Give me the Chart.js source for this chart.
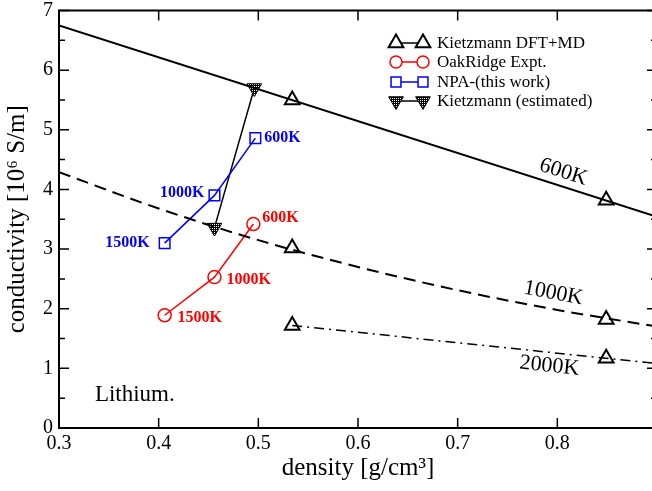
<!DOCTYPE html>
<html>
<head>
<meta charset="utf-8">
<script src="https://cdn.jsdelivr.net/npm/chart.js@4/dist/chart.umd.min.js"></script>
<style>
  html, body { margin: 0; padding: 0; background: #fff; overflow: hidden; }
  #wrap { width: 670px; height: 491px; position: relative; }
</style>
</head>
<body>
<div id="wrap"><canvas id="chart"></canvas></div>
<script>
// --- data ---
const xTicks = [0.3, 0.4, 0.5, 0.6, 0.7, 0.8, 0.9];
const yTicks = [0, 1, 2, 3, 4, 5, 6, 7];

// Kietzmann DFT+MD (open triangles)
const dftDensity = [0.534, 0.849];
const dft600 = [5.50, 3.82];
const dft1000 = [3.02, 1.82];
const dft2000 = [1.72, 1.17];

// fitted curves through them
const fit600Density = [0.3, 0.9];
const fit600 = [6.75, 3.54];
const fit1000Density = [0.3, 0.4, 0.5, 0.6, 0.7, 0.8, 0.9];
const fit1000 = [4.29, 3.68, 3.15, 2.70, 2.31, 1.98, 1.70];
const fit2000Density = [0.534, 0.9];
const fit2000 = [1.72, 1.08];

// OakRidge Expt. (red circles)
const oakDensity = [0.406, 0.456, 0.495];
const oakCond = [1.89, 2.53, 3.42];
// NPA (this work) (blue squares)
const npaDensity = [0.406, 0.456, 0.497];
const npaCond = [3.10, 3.90, 4.86];
// Kietzmann (estimated) (filled down triangles)
const estDensity = [0.496, 0.456];
const estCond = [5.70, 3.36];

// text labels in data coordinates
const tempLabels = [
  { text: '600K',  x: 0.506, y: 4.86, color: '#0000ff', align: 'left' },
  { text: '1000K', x: 0.446, y: 3.94, color: '#0000ff', align: 'right' },
  { text: '1500K', x: 0.391, y: 3.10, color: '#0000ff', align: 'right' },
  { text: '600K',  x: 0.504, y: 3.52, color: '#ff0000', align: 'left' },
  { text: '1000K', x: 0.468, y: 2.48, color: '#ff0000', align: 'left' },
  { text: '1500K', x: 0.419, y: 1.84, color: '#ff0000', align: 'left' }
];
const curveLabels = [
  { text: '600K',  x: 0.806, y: 4.29, angle: 17.7 },
  { text: '1000K', x: 0.796, y: 2.26, angle: 10.6 },
  { text: '2000K', x: 0.792, y: 1.04, angle: 6 }
];

const SERIF = '"Liberation Serif", "DejaVu Serif", serif';
const pts = (xs, ys) => xs.map((x, i) => ({ x: x, y: ys[i] }));

// stipple fill for the estimated markers
function stipple() {
  const c = document.createElement('canvas');
  c.width = 2; c.height = 2;
  const g = c.getContext('2d');
  g.fillStyle = '#000'; g.fillRect(0, 0, 2, 2);
  g.fillStyle = '#fff'; g.fillRect(0, 0, 1, 1);
  return g.createPattern(c, 'repeat');
}
const stipFill = stipple();

const triStyle = { pointStyle: 'triangle', pointRadius: 8.5, pointBorderWidth: 2, pointBorderColor: '#000', pointBackgroundColor: '#fff' };

const datasets = [
  { label: 'fit600', data: pts(fit600Density, fit600), borderColor: '#000', borderWidth: 2, pointRadius: 0, showLine: true },
  { label: 'fit1000', data: pts(fit1000Density, fit1000), borderColor: '#000', borderWidth: 2, borderDash: [12, 7], pointRadius: 0, showLine: true, cubicInterpolationMode: 'monotone' },
  { label: 'fit2000', data: pts(fit2000Density, fit2000), borderColor: '#000', borderWidth: 1.5, borderDash: [10, 5, 2, 5], pointRadius: 0, showLine: true },
  Object.assign({ label: 'dft600', data: pts(dftDensity, dft600), showLine: false }, triStyle),
  Object.assign({ label: 'dft1000', data: pts(dftDensity, dft1000), showLine: false }, triStyle),
  Object.assign({ label: 'dft2000', data: pts(dftDensity, dft2000), showLine: false }, triStyle),
  { label: 'OakRidge Expt.', data: pts(oakDensity, oakCond), showLine: true, borderColor: '#ff0000', borderWidth: 1.5,
    pointStyle: 'circle', pointRadius: 6.5, pointBorderWidth: 1.5, pointBorderColor: '#ff0000', pointBackgroundColor: 'rgba(0,0,0,0)' },
  { label: 'NPA-(this work)', data: pts(npaDensity, npaCond), showLine: true, borderColor: '#0000ff', borderWidth: 1.5,
    pointStyle: 'rect', pointRadius: 7.5, pointBorderWidth: 1.5, pointBorderColor: '#0000ff', pointBackgroundColor: 'rgba(0,0,0,0)' },
  { label: 'Kietzmann (estimated)', data: pts(estDensity, estCond), showLine: true, borderColor: '#000', borderWidth: 1.5,
    pointStyle: 'triangle', pointRotation: 180, pointRadius: 8.5, pointBorderWidth: 1, pointBorderColor: '#000', pointBackgroundColor: stipFill }
];

const legendItems = [
  { text: 'Kietzmann DFT+MD', color: '#000', style: 'triangle', radius: 8.5, rotation: 0, fill: '#fff', bw: 2 },
  { text: 'OakRidge Expt.', color: '#ff0000', style: 'circle', radius: 6, rotation: 0, fill: '#fff', bw: 1.5 },
  { text: 'NPA-(this work)', color: '#0000ff', style: 'rect', radius: 7, rotation: 0, fill: '#fff', bw: 1.5 },
  { text: 'Kietzmann (estimated)', color: '#000', style: 'triangle', radius: 8.5, rotation: 180, fill: stipFill, bw: 1 }
];

// marker drawing for the legend (same shapes as Chart.js point styles)
function marker(ctx, style, r, rot, x, y) {
  ctx.beginPath();
  if (style === 'circle') {
    ctx.arc(x, y, r, 0, Math.PI * 2);
  } else if (style === 'rect') {
    const s = r * Math.SQRT1_2;
    ctx.rect(x - s, y - s, 2 * s, 2 * s);
  } else {
    const sgn = rot === 180 ? -1 : 1;
    ctx.moveTo(x, y - sgn * r);
    ctx.lineTo(x + r * 0.866, y + sgn * r * 0.5);
    ctx.lineTo(x - r * 0.866, y + sgn * r * 0.5);
    ctx.closePath();
  }
  ctx.fill();
  ctx.stroke();
}

// frame, inward ticks, legend and text annotations
const decor = {
  id: 'decor',
  afterDatasetsDraw(chart) {
    const { ctx, chartArea: a, scales: { x, y } } = chart;
    ctx.save();
    ctx.strokeStyle = '#000';
    ctx.lineWidth = 2;
    ctx.setLineDash([]);
    ctx.strokeRect(a.left, a.top, a.right - a.left, a.bottom - a.top);

    ctx.lineWidth = 1.5;
    ctx.beginPath();
    xTicks.forEach(v => {
      const px = x.getPixelForValue(v);
      ctx.moveTo(px, a.bottom); ctx.lineTo(px, a.bottom - 10);
      ctx.moveTo(px, a.top); ctx.lineTo(px, a.top + 10);
    });
    for (let v = 0; v <= 7; v += 0.5) {
      const py = y.getPixelForValue(v);
      const len = Number.isInteger(v) ? 10 : 6;
      ctx.moveTo(a.left, py); ctx.lineTo(a.left + len, py);
      ctx.moveTo(a.right, py); ctx.lineTo(a.right - len, py);
    }
    ctx.stroke();

    // legend
    const lx0 = 396, lx1 = 423, tx = 437;
    const rows = [43, 62, 82, 101];
    ctx.font = '17px ' + SERIF;
    ctx.textBaseline = 'middle';
    ctx.textAlign = 'left';
    legendItems.forEach((it, i) => {
      const ry = rows[i];
      ctx.strokeStyle = it.color;
      ctx.lineWidth = 1.5;
      ctx.beginPath(); ctx.moveTo(lx0, ry); ctx.lineTo(lx1, ry); ctx.stroke();
      [lx0, lx1].forEach(mx => {
        ctx.fillStyle = it.fill;
        ctx.strokeStyle = it.color;
        ctx.lineWidth = it.bw;
        marker(ctx, it.style, it.radius, it.rotation, mx, ry);
      });
      ctx.fillStyle = '#000';
      ctx.fillText(it.text, tx, ry + 1);
    });

    // temperature labels on data points
    ctx.font = 'bold 16px ' + SERIF;
    tempLabels.forEach(l => {
      ctx.fillStyle = l.color;
      ctx.textAlign = l.align;
      ctx.fillText(l.text, x.getPixelForValue(l.x), y.getPixelForValue(l.y));
    });

    // curve labels
    ctx.font = '22px ' + SERIF;
    ctx.fillStyle = '#000';
    ctx.textAlign = 'center';
    curveLabels.forEach(l => {
      ctx.save();
      ctx.translate(x.getPixelForValue(l.x), y.getPixelForValue(l.y));
      ctx.rotate(l.angle * Math.PI / 180);
      ctx.fillText(l.text, 0, 0);
      ctx.restore();
    });

    ctx.font = '23px ' + SERIF;
    ctx.textAlign = 'left';
    ctx.fillText('Lithium.', x.getPixelForValue(0.336), y.getPixelForValue(0.55));
    ctx.restore();
  }
};

new Chart(document.getElementById('chart'), {
  type: 'scatter',
  data: { datasets: datasets },
  plugins: [decor],
  options: {
    responsive: true,
    maintainAspectRatio: false,
    animation: false,
    layout: { padding: { left: 0, top: 10, right: 13, bottom: 0 } },
    plugins: { legend: { display: false }, tooltip: { enabled: false } },
    elements: { line: { tension: 0 } },
    scales: {
      x: {
        type: 'linear', min: 0.3, max: 0.9,
        afterBuildTicks: s => { s.ticks = xTicks.map(v => ({ value: v })); },
        afterFit: s => { s.height = 63; s.paddingLeft = 0; s.paddingRight = 0; },
        ticks: { color: '#000', font: { family: SERIF, size: 20 }, padding: 4,
                 callback: v => v > 0.85 ? '' : v.toFixed(1) },
        grid: { display: false, drawTicks: false },
        border: { display: true, color: '#000', width: 2 },
        title: { display: true, text: 'density [g/cm³]', color: '#000', font: { family: SERIF, size: 25 }, padding: { top: 0, bottom: 8 } }
      },
      y: {
        type: 'linear', min: 0, max: 7,
        afterBuildTicks: s => { s.ticks = yTicks.map(v => ({ value: v })); },
        afterFit: s => { s.width = 59; s.paddingTop = 0; s.paddingBottom = 0; },
        ticks: { color: '#000', font: { family: SERIF, size: 20 }, padding: 6 },
        grid: { display: false, drawTicks: false },
        border: { display: true, color: '#000', width: 2 },
        title: { display: true, text: 'conductivity [10⁶ S/m]', color: '#000', font: { family: SERIF, size: 25 }, padding: { top: 2, bottom: 0 } }
      }
    }
  }
});
</script>
</body>
</html>
